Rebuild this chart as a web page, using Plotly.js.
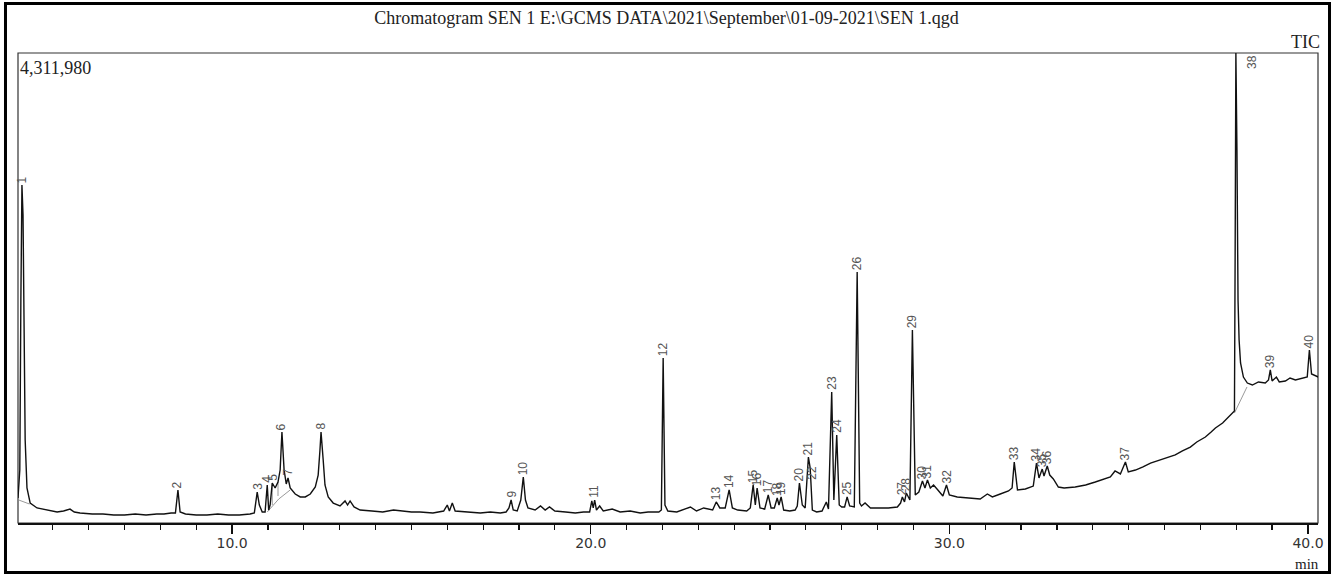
<!DOCTYPE html>
<html>
<head>
<meta charset="utf-8">
<script src="https://cdn.plot.ly/plotly-3.0.1.min.js"></script>
<style>
  html, body { margin: 0; padding: 0; background: #fff; }
  #chart { width: 1333px; height: 575px; }
</style>
</head>
<body>
<div id="chart"></div>
<script>
// Retention time (min) of each sampled point of the TIC trace
const rt = [
  4.03, 4.08, 4.11, 4.14, 4.17, 4.20, 4.23, 4.28, 4.37, 4.56, 4.84, 5.12, 5.30, 5.48, 5.60, 5.76,
  6.10, 6.40, 6.70, 7.00, 7.30, 7.60, 7.90, 8.10, 8.30, 8.42, 8.49, 8.55, 8.70, 9.00, 9.30, 9.60,
  9.90, 10.20, 10.50, 10.62, 10.70, 10.76, 10.84, 10.92, 10.98, 11.02, 11.06, 11.12, 11.20, 11.28,
  11.34, 11.39, 11.45, 11.51, 11.56, 11.62, 11.76, 11.90, 12.04, 12.18, 12.32, 12.40, 12.45, 12.48,
  12.54, 12.59, 12.68, 12.82, 13.01, 13.15, 13.22, 13.29, 13.40, 13.57,
  13.90, 14.20, 14.50, 14.69, 15.00, 15.24, 15.60, 15.90, 16.00, 16.06, 16.14, 16.22, 16.60, 16.92,
  17.20, 17.48, 17.64, 17.72, 17.78, 17.84, 17.95, 18.05, 18.12, 18.18, 18.25, 18.45, 18.60, 18.73,
  18.85, 19.00, 19.30, 19.57, 19.80, 19.97, 20.03, 20.07, 20.11, 20.16, 20.25, 20.35, 20.60, 20.82,
  21.10, 21.38, 21.60, 21.90, 21.97, 22.02, 22.07, 22.15, 22.40, 22.60, 22.78, 22.95, 23.15, 23.40,
  23.50, 23.60, 23.75, 23.86, 23.95, 24.10, 24.35, 24.45, 24.53, 24.59, 24.64, 24.72, 24.85, 24.95,
  25.03, 25.12, 25.20, 25.25, 25.31, 25.38, 25.55, 25.70, 25.76, 25.82, 25.90, 25.98, 26.07, 26.12,
  26.18, 26.30, 26.45, 26.57, 26.63, 26.72, 26.78, 26.86, 26.93, 27.00, 27.08, 27.15, 27.22, 27.35,
  27.43, 27.50, 27.55, 27.65, 27.80, 28.00, 28.30, 28.55, 28.64, 28.69, 28.75, 28.80, 28.90, 28.97,
  29.05, 29.15, 29.25, 29.32, 29.39, 29.47, 29.56, 29.68, 29.82, 29.92, 30.00, 30.22, 30.50, 30.86,
  31.06, 31.20, 31.42, 31.65, 31.75, 31.81, 31.90, 32.12, 32.34, 32.43, 32.50, 32.59, 32.64, 32.73,
  32.80, 32.90, 33.04, 33.20, 33.51, 33.80, 34.07, 34.30, 34.49, 34.62, 34.77, 34.91, 34.99, 35.19,
  35.40, 35.61, 35.89, 36.10, 36.30, 36.50, 36.72, 36.90, 37.14, 37.30, 37.42, 37.62, 37.84, 37.95,
  37.97, 37.99, 38.02, 38.05, 38.08, 38.12, 38.20, 38.31, 38.45, 38.62, 38.81, 38.90, 38.95, 39.00,
  39.12, 39.20, 39.37, 39.50, 39.65, 39.85, 39.98, 40.04, 40.10, 40.29
];
// Total ion current (counts) at each point
const tic = [
  229000, 486000, 2046000, 3101000, 2826000, 1771000, 761000, 321000, 183000, 138000, 119000, 101000, 110000, 128000, 101000, 92000,
  83000, 83000, 73000, 73000, 83000, 73000, 83000, 83000, 92000, 92000, 303000, 101000, 83000, 73000, 73000, 83000,
  73000, 73000, 83000, 92000, 284000, 165000, 101000, 101000, 349000, 119000, 165000, 367000, 321000, 376000,
  486000, 835000, 486000, 358000, 413000, 321000, 266000, 239000, 239000, 266000, 330000, 440000, 670000, 835000,
  578000, 349000, 239000, 183000, 156000, 202000, 165000, 202000, 147000, 119000,
  110000, 101000, 119000, 110000, 101000, 101000, 92000, 110000, 165000, 110000, 183000, 110000, 101000, 92000,
  101000, 92000, 101000, 138000, 211000, 119000, 110000, 211000, 422000, 211000, 138000, 119000, 156000, 119000,
  147000, 110000, 101000, 92000, 101000, 101000, 202000, 138000, 211000, 119000, 156000, 110000, 128000, 101000,
  110000, 92000, 101000, 101000, 119000, 1514000, 165000, 110000, 101000, 128000, 147000, 110000, 138000, 119000,
  193000, 138000, 138000, 303000, 138000, 119000, 110000, 138000, 349000, 165000, 321000, 138000, 128000, 257000,
  138000, 138000, 229000, 165000, 239000, 119000, 110000, 119000, 156000, 367000, 165000, 138000, 605000, 505000,
  119000, 101000, 110000, 193000, 128000, 1202000, 211000, 807000, 165000, 147000, 147000, 239000, 156000, 147000,
  2303000, 183000, 156000, 183000, 138000, 138000, 138000, 147000, 183000, 239000, 193000, 275000, 211000, 1771000,
  257000, 284000, 385000, 321000, 394000, 321000, 349000, 303000, 248000, 349000, 257000, 239000, 229000, 220000,
  266000, 239000, 266000, 294000, 321000, 560000, 303000, 312000, 339000, 550000, 413000, 495000, 431000, 523000,
  440000, 404000, 330000, 321000, 330000, 349000, 376000, 404000, 422000, 477000, 450000, 560000, 468000, 486000,
  514000, 550000, 578000, 605000, 624000, 661000, 697000, 743000, 789000, 835000, 872000, 917000, 991000, 1028000,
  2505000, 4311980, 3422000, 2046000, 1679000, 1468000, 1339000, 1284000, 1266000, 1294000, 1284000, 1312000, 1404000, 1303000,
  1339000, 1294000, 1303000, 1330000, 1312000, 1330000, 1339000, 1587000, 1367000, 1339000
];

// Integration baselines (grey segments, separated by nulls)
const baseRt  = [4.05, 4.35, null, 10.98, 11.30, 11.62, null, 11.12, 11.12, null, 11.28, 11.28, null, 37.95, 38.30];
const baseTic = [211000, 174000, null, 101000, 220000, 303000, null, 367000, 165000, null, 376000, 248000, null, 1009000, 1248000];

// Peak labels: number, retention time, apex counts
const peakNo  = ['1','2','3','4','5','6','7','8','9','10','11','12','13','14','15','16','17','18','19','20',
                 '21','22','23','24','25','26','27','28','29','30','31','32','33','34','35','36','37','39','40'];
const peakRt  = [4.14, 8.49, 10.70, 10.98, 11.12, 11.39, 11.56, 12.48, 17.78, 18.12, 20.07, 22.02, 23.50, 23.86,
                 24.53, 24.64, 24.95, 25.20, 25.31, 25.82, 26.07, 26.16, 26.72, 26.86, 27.15, 27.43, 28.69, 28.80,
                 28.97, 29.25, 29.39, 29.92, 31.81, 32.43, 32.59, 32.73, 34.91, 38.95, 40.04];
const peakTic = [3101000, 303000, 284000, 349000, 367000, 835000, 413000, 835000, 211000, 422000, 211000, 1514000,
                 193000, 303000, 349000, 321000, 257000, 229000, 239000, 367000, 605000, 376000, 1202000, 807000,
                 239000, 2303000, 239000, 275000, 1771000, 385000, 394000, 349000, 560000, 550000, 495000, 523000,
                 560000, 1404000, 1587000];
const bigPeakNo = '38', bigPeakRt = 37.99;

const maxTic = 4311980;
const tickVals = [10, 20, 30, 40];
const tickText = ['10.0', '20.0', '30.0', '40.0'];

const serif = 'Liberation Serif, Times New Roman, serif';

const traces = [
  { x: baseRt, y: baseTic, type: 'scatter', mode: 'lines', connectgaps: false,
    line: { color: '#9a9a9a', width: 1 }, hoverinfo: 'skip', showlegend: false },
  { x: rt, y: tic, type: 'scatter', mode: 'lines',
    line: { color: '#111', width: 1.4 }, showlegend: false }
];

const annotations = peakNo.map((t, i) => ({
  x: peakRt[i], y: peakTic[i], xref: 'x', yref: 'y', text: t, showarrow: false,
  textangle: -90, xanchor: 'center', yanchor: 'bottom', yshift: 0,
  font: { family: 'Liberation Sans, Arial, sans-serif', size: 12, color: '#555' }
}));
annotations.push({
  x: bigPeakRt, y: 1, xref: 'x', yref: 'paper', text: bigPeakNo, showarrow: false,
  textangle: -90, xanchor: 'center', yanchor: 'top', xshift: 16, yshift: 0,
  font: { family: 'Liberation Sans, Arial, sans-serif', size: 12, color: '#555' }
});
annotations.push({
  x: 0, y: 1, xref: 'paper', yref: 'paper', text: maxTic.toLocaleString('en-US'), showarrow: false,
  xanchor: 'left', yanchor: 'top', xshift: 0, yshift: -3,
  font: { family: serif, size: 18, color: '#222' }
});
annotations.push({
  x: 1, y: 1, xref: 'paper', yref: 'paper', text: 'TIC', showarrow: false,
  xanchor: 'right', yanchor: 'bottom', xshift: 4, yshift: -1,
  font: { family: serif, size: 18, color: '#222' }
});
annotations.push({
  x: 0.9915, y: 0, xref: 'paper', yref: 'paper', text: 'min', showarrow: false,
  xanchor: 'center', yanchor: 'top', yshift: -31,
  font: { family: serif, size: 15, color: '#222' }
});

const layout = {
  width: 1333, height: 575,
  margin: { l: 18, r: 15, t: 53, b: 52 },
  paper_bgcolor: '#fff', plot_bgcolor: '#fff',
  title: {
    text: 'Chromatogram SEN 1 E:\\GCMS DATA\\2021\\September\\01-09-2021\\SEN 1.qgd',
    font: { family: serif, size: 18, color: '#222' },
    x: 0.5, xref: 'container', y: 0.970, yref: 'container', yanchor: 'middle'
  },
  xaxis: {
    range: [4.03, 40.28], showgrid: false, zeroline: false,
    showline: true, linecolor: '#111', linewidth: 2,
    tickmode: 'array', tickvals: tickVals, ticktext: tickText,
    ticks: 'outside', ticklen: 9, tickwidth: 1.5, tickcolor: '#111',
    ticklabelstandoff: -3,
    tickfont: { family: 'DejaVu Sans, sans-serif', size: 14, color: '#333' },
    minor: { dtick: 1, tick0: 0, ticks: 'outside', ticklen: 5, tickwidth: 1.2, tickcolor: '#111', showgrid: false }
  },
  yaxis: {
    range: [0, maxTic], showgrid: false, zeroline: false, showticklabels: false,
    showline: false, ticks: ''
  },
  shapes: [
    { type: 'rect', xref: 'paper', yref: 'paper', x0: 0, x1: 1, y0: 0, y1: 1,
      line: { color: '#333', width: 1.2 }, layer: 'below' },
    { type: 'rect', xref: 'paper', yref: 'paper', x0: -0.00962, x1: 1.00885, y0: -0.10532, y1: 1.10532,
      line: { color: '#000', width: 3 }, layer: 'above' }
  ],
  annotations: annotations,
  showlegend: false
};

Plotly.newPlot('chart', traces, layout, { staticPlot: true, displayModeBar: false });
</script>
</body>
</html>
